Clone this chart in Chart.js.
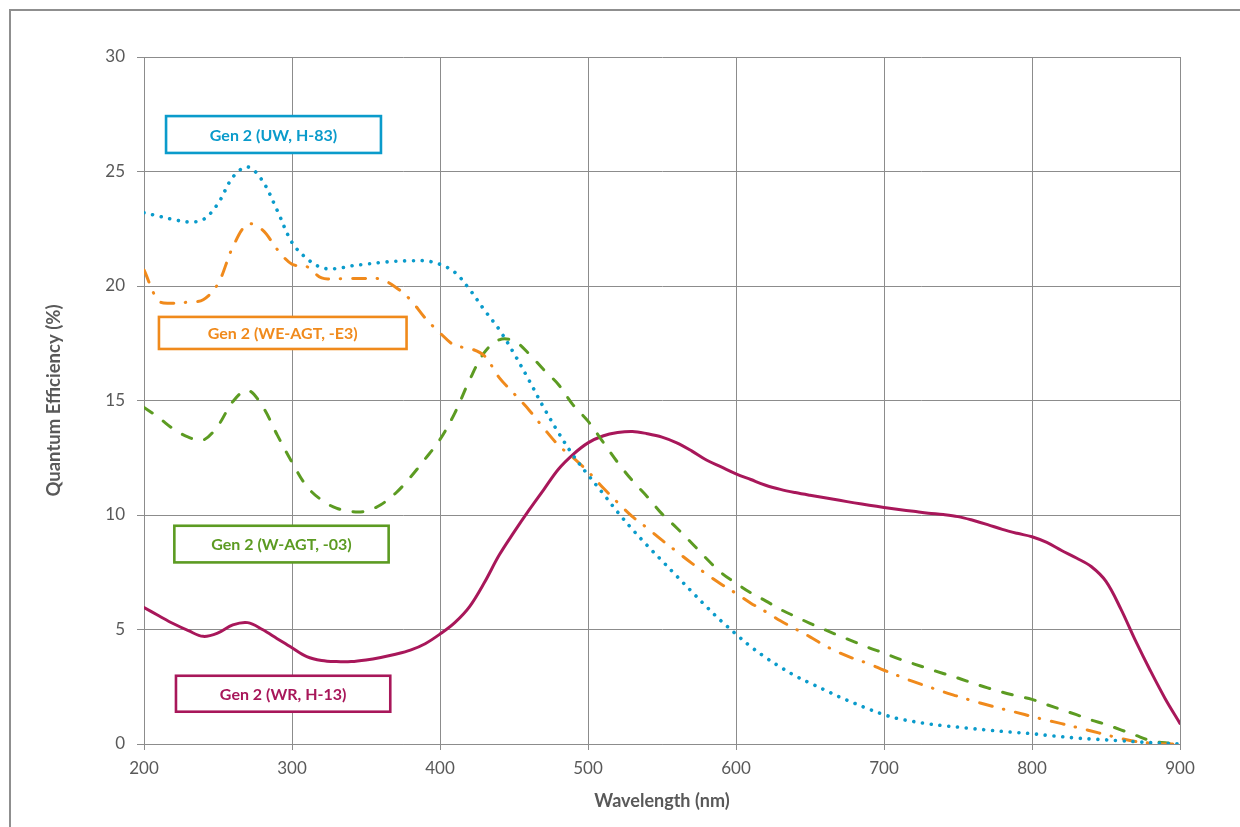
<!DOCTYPE html>
<html><head><meta charset="utf-8">
<script src="https://cdn.jsdelivr.net/npm/chart.js@4.4.1/dist/chart.umd.min.js"></script>
<style>
html,body{margin:0;padding:0;background:#fff;overflow:hidden}
#wrap{position:relative;width:1240px;height:827px}
#frame{position:absolute;left:9px;top:9px;width:1300px;height:900px;border-top:2px solid #8f8f8f;border-left:2px solid #8f8f8f;pointer-events:none}
canvas{position:absolute;left:0;top:0}
</style></head><body>
<div id="wrap"><canvas id="c" width="1240" height="827"></canvas><div id="frame"></div></div>
<script>
const wavelengths = [200,210,220,230,240,250,260,270,280,290,300,310,320,330,340,350,360,370,380,390,400,410,420,430,440,450,460,470,480,490,500,510,520,530,540,550,560,570,580,590,600,610,620,630,640,650,660,670,680,690,700,710,720,730,740,750,760,770,780,790,800,810,820,830,840,850,860,870,880,890,900];

const qeUW = [23.2,23.05,22.9,22.8,22.9,23.6,24.75,25.2,24.6,23.3,21.9,21.2,20.8,20.76,20.88,20.95,21.03,21.08,21.1,21.1,20.95,20.6,19.85,18.95,18.1,17.05,15.9,14.7,13.6,12.6,11.75,10.95,10.13,9.37,8.67,8.0,7.33,6.66,6.0,5.37,4.8,4.25,3.78,3.36,2.98,2.66,2.36,2.05,1.78,1.52,1.28,1.1,0.98,0.88,0.8,0.74,0.67,0.61,0.55,0.5,0.45,0.38,0.32,0.26,0.22,0.18,0.14,0.1,0.06,0.03,0.01];

const qeWE = [20.7,19.35,19.25,19.3,19.4,20.1,21.7,22.7,22.45,21.6,20.95,20.85,20.35,20.32,20.33,20.33,20.3,19.95,19.4,18.6,17.95,17.4,17.28,16.95,16.0,15.3,14.6,13.8,13.05,12.5,11.9,11.2,10.55,9.93,9.43,8.9,8.4,7.9,7.42,6.98,6.58,6.15,5.78,5.38,5.03,4.68,4.3,3.98,3.72,3.5,3.22,2.97,2.72,2.5,2.28,2.08,1.88,1.7,1.53,1.37,1.2,1.04,0.89,0.73,0.57,0.4,0.24,0.11,0.04,0,0];

const qeW = [14.7,14.25,13.75,13.4,13.27,13.9,14.95,15.45,14.75,13.5,12.3,11.25,10.65,10.3,10.15,10.17,10.45,10.95,11.65,12.45,13.3,14.45,15.9,17.1,17.65,17.6,17.05,16.35,15.7,14.8,14.1,13.2,12.3,11.5,10.8,10.05,9.43,8.78,8.1,7.48,7.02,6.6,6.25,5.88,5.57,5.27,4.99,4.72,4.46,4.2,3.97,3.72,3.5,3.29,3.08,2.88,2.66,2.45,2.26,2.1,1.95,1.72,1.5,1.28,1.05,0.85,0.62,0.38,0.15,0.05,0.02];

const qeWR = [5.96,5.6,5.25,4.95,4.7,4.85,5.2,5.3,5.0,4.6,4.2,3.82,3.65,3.6,3.6,3.67,3.78,3.92,4.1,4.38,4.8,5.3,6.0,7.05,8.25,9.25,10.2,11.1,12.0,12.65,13.15,13.45,13.6,13.65,13.55,13.4,13.15,12.8,12.4,12.1,11.8,11.55,11.3,11.12,10.98,10.86,10.75,10.64,10.53,10.43,10.33,10.24,10.16,10.08,10.02,9.93,9.77,9.58,9.37,9.2,9.05,8.8,8.45,8.12,7.75,7.1,5.9,4.5,3.2,1.98,0.9];

const seriesNames = ['Gen 2 (UW, H-83)','Gen 2 (WE-AGT, -E3)','Gen 2 (W-AGT, -03)','Gen 2 (WR, H-13)'];
const xTickValues = [200,300,400,500,600,700,800,900];
const yTickValues = [0,5,10,15,20,25,30];

const colors = ['#0a9bcb','#f08a1c','#5c9b22','#a8175a'];
// label boxes in data coordinates
const labelBoxes = [
  {x1:214.9,x2:360.1,y1:27.42,y2:25.81},
  {x1:210.1,x2:377.4,y1:18.65,y2:17.25},
  {x1:220.5,x2:365.3,y1:9.53,y2:7.93},
  {x1:221.6,x2:366.4,y1:2.98,y2:1.41}
];

const FONT = 'Lato, "Open Sans", sans-serif';
const toXY = arr => wavelengths.map((w,i)=>({x:w,y:arr[i]}));

const labelPlugin = {
  id:'labelBoxes',
  afterDatasetsDraw(chart){
    const {ctx, scales:{x,y}} = chart;
    ctx.save();
    labelBoxes.forEach((b,i)=>{
      const px1=x.getPixelForValue(b.x1), px2=x.getPixelForValue(b.x2);
      const py1=y.getPixelForValue(b.y1), py2=y.getPixelForValue(b.y2);
      ctx.fillStyle='#fff';
      ctx.fillRect(px1,py1,px2-px1,py2-py1);
      ctx.lineWidth=2.6;
      ctx.strokeStyle=colors[i];
      ctx.strokeRect(px1,py1,px2-px1,py2-py1);
      ctx.fillStyle=colors[i];
      ctx.font='bold 16px '+FONT;
      ctx.textAlign='center';
      ctx.textBaseline='middle';
      ctx.fillText(seriesNames[i],(px1+px2)/2,(py1+py2)/2+1);
    });
    ctx.restore();
  }
};

const dsCommon = {pointRadius:0,borderWidth:3,fill:false,tension:0.35};

new Chart(document.getElementById('c'),{
  type:'line',
  data:{datasets:[
    Object.assign({label:seriesNames[0],data:toXY(qeUW),borderColor:colors[0],borderDash:[0.01,8.8],borderCapStyle:'round'},dsCommon,{borderWidth:3.6}),
    Object.assign({label:seriesNames[1],data:toXY(qeWE),borderColor:colors[1],borderDash:[13,11.5,0.5,12],borderCapStyle:'round'},dsCommon),
    Object.assign({label:seriesNames[2],data:toXY(qeW),borderColor:colors[2],borderDash:[10,13.5],borderCapStyle:'round'},dsCommon),
    Object.assign({label:seriesNames[3],data:toXY(qeWR),borderColor:colors[3],borderCapStyle:'round'},dsCommon)
  ]},
  options:{
    responsive:false,
    animation:false,
    layout:{padding:{left:0,top:57,right:60,bottom:0}},
    plugins:{legend:{display:false},tooltip:{enabled:false}},
    scales:{
      x:{type:'linear',min:200,max:900,
        afterBuildTicks(s){s.ticks=xTickValues.map(v=>({value:v}));},
        afterFit(s){s.height=83;},
        grid:{color:'#8c8c8c',lineWidth:1,tickLength:6,drawTicks:true},
        border:{color:'#8c8c8c',width:1},
        ticks:{font:{family:FONT,size:17},color:'#595959',padding:8,maxRotation:0},
        title:{display:true,text:'Wavelength (nm)',font:{family:FONT,size:18,weight:'bold'},color:'#595959',padding:{top:0,bottom:15}}
      },
      y:{type:'linear',min:0,max:30,
        afterBuildTicks(s){s.ticks=yTickValues.map(v=>({value:v}));},
        afterFit(s){s.width=144;},
        grid:{color:'#8c8c8c',lineWidth:1,tickLength:7},
        border:{color:'#8c8c8c',width:1},
        ticks:{font:{family:FONT,size:17},color:'#595959',padding:12},
        title:{display:true,text:'Quantum Efficiency (%)',font:{family:FONT,size:18.5,weight:'bold'},color:'#595959',padding:{top:43,bottom:0}}
      }
    }
  },
  plugins:[labelPlugin]
});
</script>
</body></html>
